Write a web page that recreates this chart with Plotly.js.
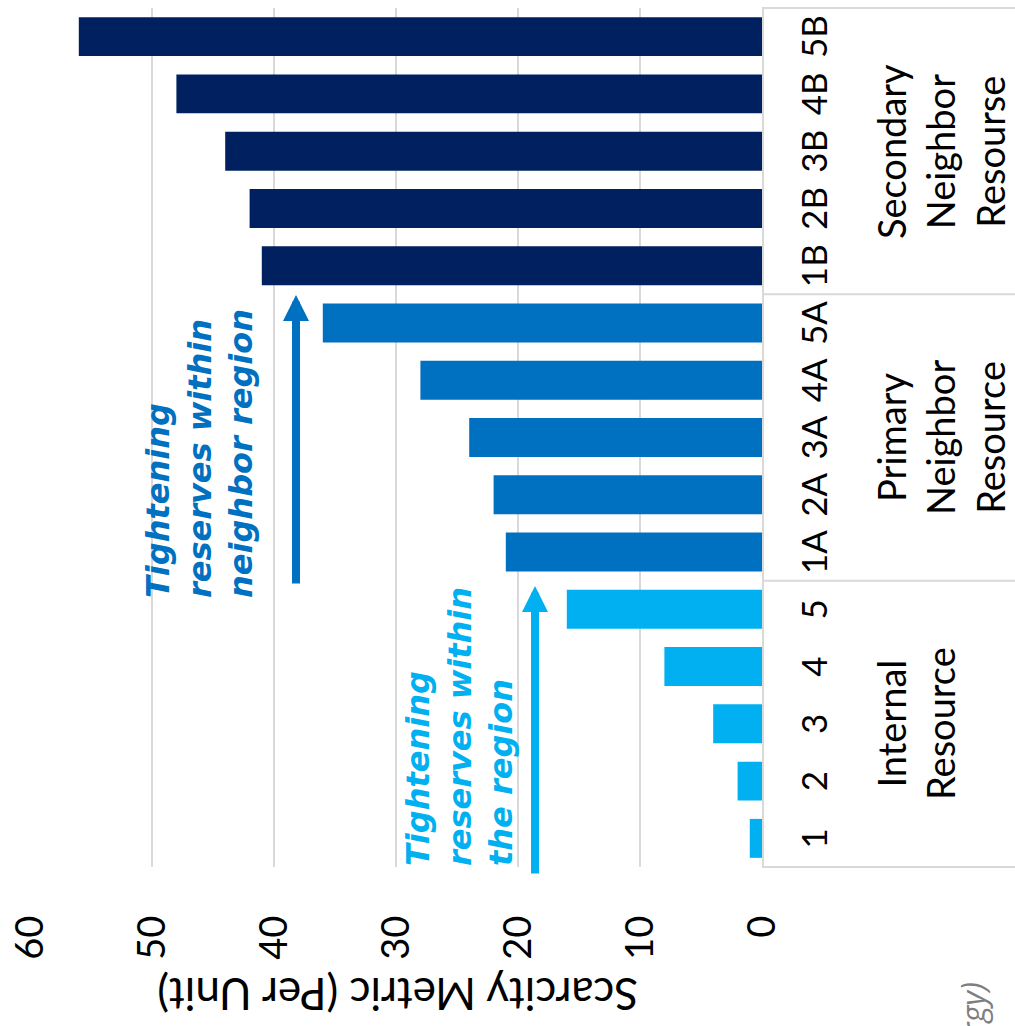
<!DOCTYPE html>
<html>
<head>
<meta charset="utf-8">
<script src="https://cdn.plot.ly/plotly-3.0.1.min.js"></script>
<style>
  html, body { margin: 0; padding: 0; background: #ffffff; overflow: hidden; }
  body { width: 1015px; height: 1026px; position: relative; }
  /* The column chart is laid out upright, then turned a quarter turn
     counter-clockwise so the bars run leftwards from the category axis. */
  #chart {
    position: absolute; left: 0; top: 0;
    width: 1026px; height: 1015px;
    transform-origin: 0 0;
    transform: translate(0px, 1026px) rotate(-90deg);
  }
</style>
</head>
<body>
<div id="chart"></div>
<script>
// Scarcity metric per resource, grouped by where the reserve sits
const internalLabels = ['1', '2', '3', '4', '5'];
const internalValues = [1, 2, 4, 8, 16];
const primaryLabels = ['1A', '2A', '3A', '4A', '5A'];
const primaryValues = [21, 22, 24, 28, 36];
const secondaryLabels = ['1B', '2B', '3B', '4B', '5B'];
const secondaryValues = [41, 42, 44, 48, 56];

const groupNames = ['Internal<br>Resource', 'Primary<br>Neighbor<br>Resource', 'Secondary<br>Neighbor<br>Resourse'];
const valueAxisTitle = 'Scarcity Metric (Per Unit)';
const valueTicks = [0, 10, 20, 30, 40, 50, 60];
const noteInternal = 'Tightening<br>reserves within<br>the region';
const noteNeighbor = 'Tightening<br>reserves within<br>neighbor region';
const sourceNote = '(Source: Energy)';

const groupColors = ['#00B0F0', '#0070C0', '#002060'];

const groupLabels = [internalLabels, primaryLabels, secondaryLabels];
const groupValues = [internalValues, primaryValues, secondaryValues];

const categories = [].concat(...groupLabels);
const values = [].concat(...groupValues);
const barColors = [].concat(...groupLabels.map((g, i) => g.map(() => groupColors[i])));

// page geometry (upright frame)
const W = 1026, H = 1015;
const M = { l: 159, r: 8, t: 30, b: 253 };
const PW = W - M.l - M.r, PH = H - M.t - M.b;
const px = u => (u - M.l) / PW;          // pixel -> paper x
const py = v => 1 - (v - M.t) / PH;      // pixel -> paper y

const textFont = 'Lato, "Open Sans", sans-serif';
const noteFont = '"DejaVu Sans", Verdana, sans-serif';
const gridGrey = '#D9D9D9';

// group boundaries along the category axis (in paper units)
const nCat = categories.length;
const bounds = [0];
groupLabels.forEach(g => bounds.push(bounds[bounds.length - 1] + g.length));

const shapes = bounds.map(b => ({
  type: 'line', xref: 'paper', yref: 'paper',
  x0: b / nCat, x1: b / nCat, y0: 0, y1: -M.b / PH,
  line: { color: gridGrey, width: 2 }
}));

const annotations = [];

// group captions under the tick labels
groupNames.forEach((name, i) => {
  annotations.push({
    xref: 'paper', yref: 'paper',
    x: (bounds[i] + bounds[i + 1]) / 2 / nCat, y: py(866),
    xanchor: 'center', yanchor: 'top', align: 'center',
    text: name, showarrow: false,
    font: { family: textFont, size: 38, color: '#000000' }
  });
});

// value axis title
annotations.push({
  xref: 'paper', yref: 'paper', x: px(31), y: py(398),
  xanchor: 'center', yanchor: 'middle', textangle: -90,
  text: valueAxisTitle, showarrow: false,
  font: { family: textFont, size: 44, color: '#000000' }
});

// arrows and captions for the two tightening steps
annotations.push({
  xref: 'paper', yref: 'paper', x: px(731), y: py(296),
  axref: 'pixel', ayref: 'pixel', ax: -290, ay: 0,
  text: '', showarrow: true, arrowhead: 2, arrowsize: 0.65, arrowwidth: 8,
  arrowcolor: groupColors[1]
});
annotations.push({
  xref: 'paper', yref: 'paper', x: px(440), y: py(535),
  axref: 'pixel', ayref: 'pixel', ax: -289, ay: 0,
  text: '', showarrow: true, arrowhead: 2, arrowsize: 0.65, arrowwidth: 8,
  arrowcolor: groupColors[0]
});
annotations.push({
  xref: 'paper', yref: 'paper', x: px(426), y: py(137),
  xanchor: 'left', yanchor: 'top', align: 'left',
  text: noteNeighbor, showarrow: false,
  font: { family: noteFont, size: 32, color: groupColors[1], weight: 700, style: 'italic' }
});
annotations.push({
  xref: 'paper', yref: 'paper', x: px(158), y: py(397),
  xanchor: 'left', yanchor: 'top', align: 'left',
  text: noteInternal, showarrow: false,
  font: { family: noteFont, size: 32, color: groupColors[0], weight: 700, style: 'italic' }
});

// source line along the lower edge, running off the page
annotations.push({
  xref: 'paper', yref: 'paper', x: px(46), y: py(972),
  xanchor: 'right', yanchor: 'middle',
  text: sourceNote, showarrow: false,
  font: { family: '"Open Sans", sans-serif', size: 32, color: '#7F7F7F', style: 'italic' }
});

const trace = {
  type: 'bar',
  x: categories,
  y: values,
  marker: { color: barColors, line: { width: 0 } },
  hoverinfo: 'x+y'
};

const layout = {
  width: W, height: H,
  margin: M,
  paper_bgcolor: '#ffffff', plot_bgcolor: '#ffffff',
  showlegend: false,
  bargap: 0.32,
  font: { family: textFont, color: '#000000' },
  xaxis: {
    type: 'category', categoryorder: 'array', categoryarray: categories,
    range: [-0.5, nCat - 0.5], fixedrange: true,
    showgrid: false, zeroline: false,
    showline: true, linecolor: gridGrey, linewidth: 2,
    ticks: 'outside', ticklen: 21, tickcolor: 'rgba(0,0,0,0)',
    tickfont: { family: textFont, size: 35, color: '#000000' }
  },
  yaxis: {
    range: [0, 60], tickvals: valueTicks, fixedrange: true,
    showgrid: true, gridcolor: gridGrey, gridwidth: 2,
    zeroline: false, showline: false,
    ticks: 'outside', ticklen: 40, tickcolor: 'rgba(0,0,0,0)',
    tickfont: { family: textFont, size: 38, color: '#000000' }
  },
  shapes: shapes,
  annotations: annotations
};

Plotly.newPlot('chart', [trace], layout, { staticPlot: true, displayModeBar: false });
</script>
</body>
</html>
